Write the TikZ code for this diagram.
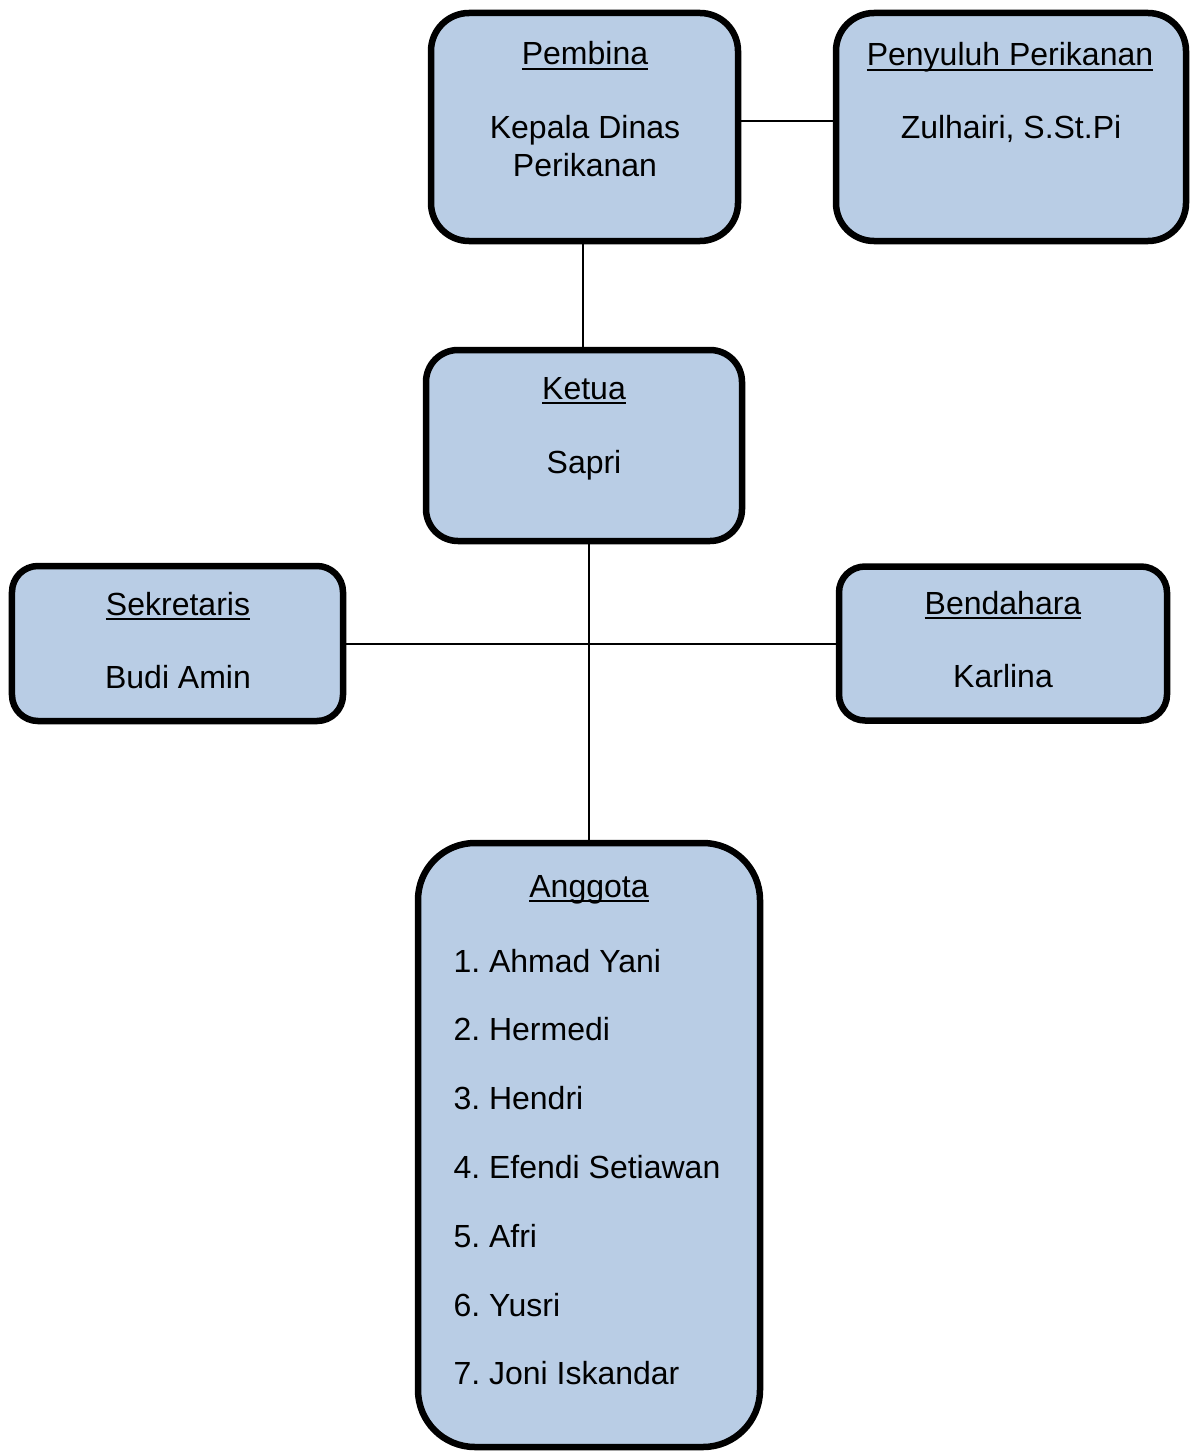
\documentclass[tikz,border=0pt]{standalone}
\usepackage{fontspec}
\setmainfont{Liberation Sans}
\usepackage{xcolor}
\usetikzlibrary{positioning}
\definecolor{biruMuda}{RGB}{185,205,229}
\newcommand{\judul}[1]{\setbox0\hbox{#1}\rlap{\rule[-2pt]{\wd0}{0.8pt}}\box0}

\begin{document}
\begin{tikzpicture}[x=0.4pt,y=-0.4pt,
        kotak/.style={draw=black, line width=2.6pt, fill=biruMuda, rounded corners=#1, inner sep=0pt},
        teks/.style={font=\fontsize{12.8}{15}\selectfont, anchor=base, inner sep=0pt},
        garis/.style={line width=0.8pt}]
        \useasboundingbox (0,0) rectangle (1190,1452); % same size as the page

        % the boxes of the chart
        \node[kotak=15.2pt, minimum width=122.8pt, minimum height=91.2pt] (pembina) at (584.5,127) {};
        \node[kotak=15.2pt, minimum width=140pt, minimum height=91.2pt] (penyuluh) at (1011,127) {};
        \node[kotak=12.8pt, minimum width=126.4pt, minimum height=76.4pt] (ketua) at (584,445.5) {};
        \node[kotak=10.4pt, minimum width=132.4pt, minimum height=62pt] (sekretaris) at (177.5,643.5) {};
        \node[kotak=10.4pt, minimum width=131.2pt, minimum height=61.6pt] (bendahara) at (1003,643.5) {};
        \node[kotak=22.8pt, minimum width=136.8pt, minimum height=241.6pt] (anggota) at (589,1145) {};

        % lines between the boxes
        \draw[garis] ([yshift=2.4pt]pembina.east) -- ([yshift=2.4pt]penyuluh.west);
        \draw[garis] ([xshift=-0.8pt]pembina.south) -- ([xshift=-0.8pt]pembina.south |- ketua.north);
        \draw[garis] (anggota.north |- ketua.south) -- (anggota.north);
        \draw[garis] (sekretaris.east) -- (bendahara.west);

        % texts
        \node[teks] (pembinaJudul) at (585,65) {\judul{Pembina}};
        \node[teks] (pembinaNama1) at (585,138) {Kepala Dinas};
        \node[teks] (pembinaNama2) at (585,176) {Perikanan};
        \node[teks] (penyuluhJudul) at (1010,66) {\judul{Penyuluh Perikanan}};
        \node[teks] (penyuluhNama) at (1011,138) {Zulhairi, S.St.Pi};
        \node[teks] (ketuaJudul) at (584,399) {\judul{Ketua}};
        \node[teks] (ketuaNama) at (584,473) {Sapri};
        \node[teks] (sekretarisJudul) at (178,615) {\judul{Sekretaris}};
        \node[teks] (sekretarisNama) at (178,688) {Budi Amin};
        \node[teks] (bendaharaJudul) at (1003,614) {\judul{Bendahara}};
        \node[teks] (bendaharaNama) at (1003,687) {Karlina};
        \node[teks] (anggotaJudul) at (589,897) {\judul{Anggota}};
        \foreach \nama [count=\i] in {Ahmad Yani, Hermedi, Hendri, Efendi Setiawan, Afri, Yusri, Joni Iskandar}{
            \node[teks, anchor=base west] (anggota\i) at (453,903.2+68.8*\i) {\i.\ \nama}; % one line per member
        }
\end{tikzpicture}
\end{document}
